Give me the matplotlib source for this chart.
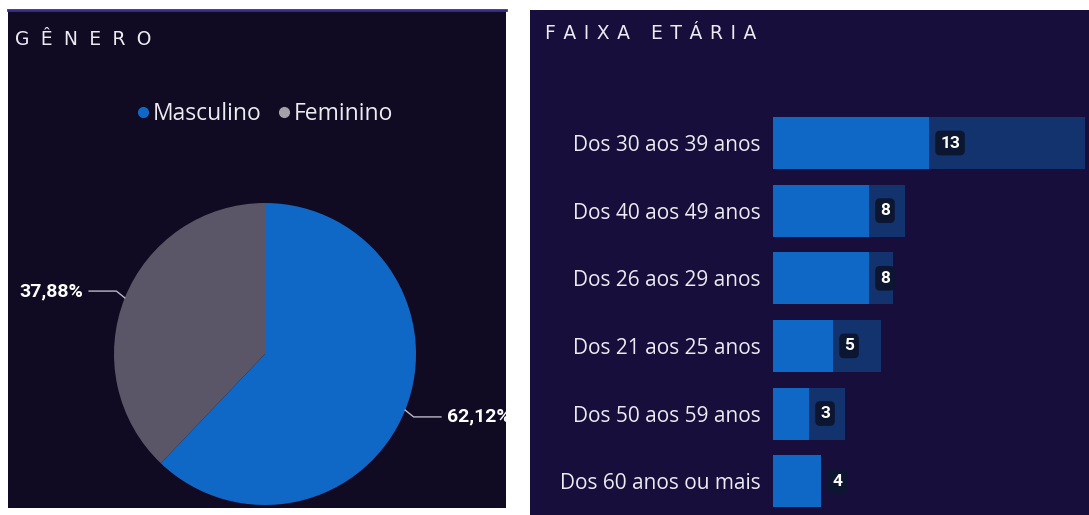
import numpy as np
import matplotlib.pyplot as plt
from matplotlib.lines import Line2D

# Gênero (pizza)
generos = ["Masculino", "Feminino"]
percentuais = [62.12, 37.88]

# Faixa etária (barras)
faixas = ["Dos 30 aos 39 anos", "Dos 40 aos 49 anos", "Dos 26 aos 29 anos",
          "Dos 21 aos 25 anos", "Dos 50 aos 59 anos", "Dos 60 anos ou mais"]
quantidade = [13, 8, 8, 5, 3, 4]
referencia = [26, 11, 10, 9, 6, 4]

W, H = 1089, 515
AZUL = "#1068c6"
AZUL_ESCURO = "#13336f"
CINZA = "#5a5567"
FUNDO_ESQ = "#100a22"
FUNDO_DIR = "#170e3b"
TEXTO = "#ecebf2"


def px(x0, y0, x1, y1):
    # caixa em pixels (origem no topo) -> coordenadas da figura
    return [x0 / W, 1 - y1 / H, (x1 - x0) / W, (y1 - y0) / H]


def espacado(s, n=2):
    return ("\u2009" * n).join(s)


def main():
    fig = plt.figure(figsize=(W / 100, H / 100), dpi=100, facecolor="white")

    # ---------------- painel esquerdo: GÊNERO ----------------
    x0, y0, x1, y1 = 8, 10, 506, 508
    painel = fig.add_axes(px(x0, y0, x1, y1))
    painel.set_facecolor(FUNDO_ESQ)
    painel.set_xticks([])
    painel.set_yticks([])
    for s in painel.spines.values():
        s.set_visible(False)
    painel.plot([0, 1], [1, 1], transform=painel.transAxes, color="#3a2c8e",
                lw=2, clip_on=False)
    painel.text((15 - x0) / (x1 - x0), 0.96, espacado("GÊNERO", 3), transform=painel.transAxes,
                color=TEXTO, fontsize=13.5, family="DejaVu Sans", va="top", ha="left")

    handles = [Line2D([], [], marker="o", ls="", color=AZUL, markersize=7),
               Line2D([], [], marker="o", ls="", color="#a3a2a8", markersize=7)]
    leg = painel.legend(handles, generos, loc="center",
                        bbox_to_anchor=((264 - x0) / (x1 - x0), (y1 - 114) / (y1 - y0)),
                        ncol=2, frameon=False, handletextpad=0.1, columnspacing=0.6,
                        handlelength=0.7, prop={"family": "Open Sans", "size": 16.5})
    for t in leg.get_texts():
        t.set_color(TEXTO)

    cx, cy, r = 265, 354, 151
    ax_pie = fig.add_axes(px(cx - r, cy - r, cx + r, cy + r))
    wedges, _ = ax_pie.pie(percentuais, colors=[AZUL, CINZA], startangle=90,
                           counterclock=False, radius=1,
                           wedgeprops=dict(linewidth=0))
    ax_pie.set_xlim(-1, 1)
    ax_pie.set_ylim(-1, 1)
    ax_pie.set_aspect("equal")
    ax_pie.axis("off")

    for w, p in zip(wedges, percentuais):
        ang = np.deg2rad((w.theta1 + w.theta2) / 2)
        x, y = np.cos(ang), np.sin(ang)
        lado = np.sign(x)
        xe = 1.06 * x
        ye = y + 0.045 * np.sign(y)
        xf = lado * 1.165
        ax_pie.plot([x, xe, xf], [y, ye, ye], color="#b9b8c4", lw=1, clip_on=False)
        rotulo = f"{p:.2f}%".replace(".", ",")
        t = ax_pie.text(xf + lado * 0.04, ye, rotulo,
                        ha="left" if lado > 0 else "right", va="center",
                        color="white", fontsize=14, fontweight="bold",
                        family="Roboto", clip_on=True)
        t.set_clip_path(painel.patch)

    # ---------------- painel direito: FAIXA ETÁRIA ----------------
    painel2 = fig.add_axes(px(530, 10, 1089, 515))
    painel2.set_facecolor(FUNDO_DIR)
    painel2.set_xticks([])
    painel2.set_yticks([])
    for s in painel2.spines.values():
        s.set_visible(False)
    painel2.text((545 - 530) / (1089 - 530), 0.973, espacado("FAIXA ETÁRIA"),
                 transform=painel2.transAxes, color=TEXTO, fontsize=13.5,
                 family="DejaVu Sans", va="top", ha="left")

    ax = fig.add_axes(px(773, 100, 1089, 515))
    ax.set_facecolor("none")
    y = np.arange(len(faixas))
    ax.barh(y, referencia, height=0.77, color=AZUL_ESCURO)
    ax.barh(y, quantidade, height=0.77, color=AZUL)
    ax.set_xlim(0, 316 / 12)
    ax.set_ylim(5.5, -0.636)
    ax.set_yticks(y)
    ax.set_yticklabels(faixas, color=TEXTO, fontsize=15, family="Open Sans")
    ax.tick_params(axis="y", length=0, pad=9)
    ax.set_xticks([])
    for s in ax.spines.values():
        s.set_visible(False)

    for yi, v in zip(y, quantidade):
        ax.annotate(str(v), xy=(v, yi), xytext=(8, 0), textcoords="offset points",
                    ha="left", va="center", color="white", fontsize=12.5,
                    fontweight="bold", family="Roboto",
                    bbox=dict(boxstyle="round,pad=0.28", fc="#0c1630", ec="none"))

    fig.savefig("out.png", dpi=100, facecolor="white")


if __name__ == "__main__":
    main()
